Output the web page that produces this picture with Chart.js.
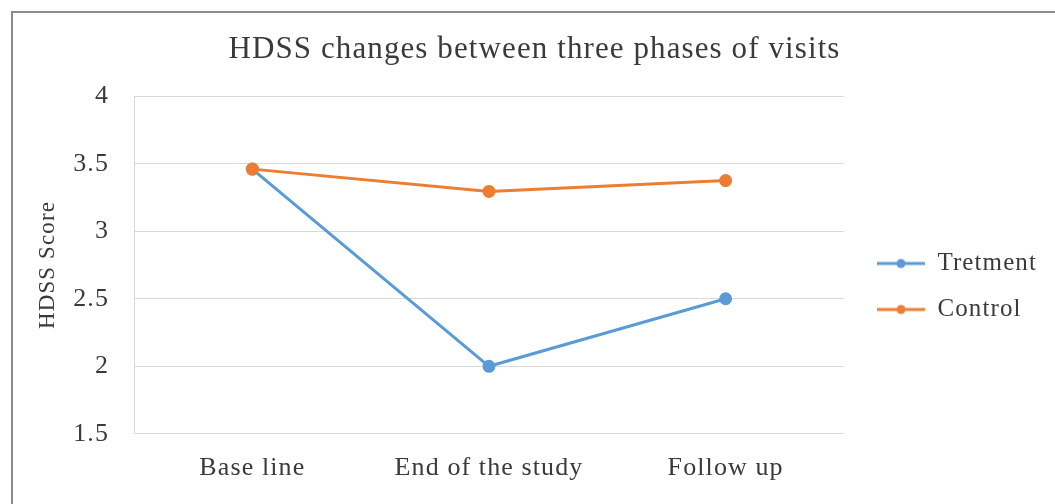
<!DOCTYPE html>
<html>
<head>
<meta charset="utf-8">
<script src="https://cdn.jsdelivr.net/npm/chart.js@4.4.1/dist/chart.umd.min.js"></script>
<style>
  html, body { margin:0; padding:0; background:#fff; }
  #wrap { width:1055px; height:504px; position:relative; }
</style>
</head>
<body>
<div id="wrap"><canvas id="c"></canvas></div>
<script>
// datos
const phases = ["Base line", "End of the study", "Follow up"];
const treatment = [3.46, 2.0, 2.5];
const control = [3.46, 3.295, 3.375];
const yTicks = [1.5, 2, 2.5, 3, 3.5, 4];

const BLUE = "#5b9bd5", ORANGE = "#ed7d31", TXT = "#3a3a3a", GRID = "#d9d9d9";
const SERIF = "'Liberation Serif', 'Times New Roman', serif";

// marcador de leyenda: línea con punto
function legendMarker(color){
  const c = document.createElement("canvas");
  c.width = 48; c.height = 12;
  const g = c.getContext("2d");
  g.strokeStyle = color; g.lineWidth = 3;
  g.beginPath(); g.moveTo(0,6); g.lineTo(48,6); g.stroke();
  g.fillStyle = color;
  g.beginPath(); g.arc(24,6,4.5,0,Math.PI*2); g.fill();
  return c;
}

// espaciado de letras, marco y posición de la leyenda
const tweaks = {
  id: "tweaks",
  beforeLayout(chart){ chart.ctx.letterSpacing = "1.1px"; },
  afterLayout(chart){
    const l = chart.legend;
    if (!l) return;
    l.top += 35; l.bottom += 35;
    l.left += 12; l.right += 12;
  },
  beforeDraw(chart){
    const ctx = chart.ctx;
    ctx.letterSpacing = "1.1px";
    ctx.save();
    ctx.strokeStyle = "#8c8c8c"; ctx.lineWidth = 2;
    ctx.strokeRect(12, 12, 1200, 700);
    ctx.restore();
  }
};

new Chart(document.getElementById("c"), {
  type: "line",
  data: {
    labels: phases,
    datasets: [
      { label:"Tretment", data:treatment, borderColor:BLUE, backgroundColor:BLUE,
        borderWidth:3, pointRadius:5, pointHoverRadius:5, order:1 },
      { label:"Control", data:control, borderColor:ORANGE, backgroundColor:ORANGE,
        borderWidth:3, pointRadius:5, pointHoverRadius:5, order:0 }
    ]
  },
  options: {
    responsive: true,
    maintainAspectRatio: false,
    animation: false,
    layout: { padding: { left:34, right:20, top:0, bottom:1 } },
    plugins: {
      title: {
        display: true,
        text: "HDSS changes between three phases of visits",
        color: TXT,
        font: { family: SERIF, size: 31, weight: "normal" },
        padding: { top: 31, bottom: 28 }
      },
      legend: {
        position: "right",
        labels: {
          usePointStyle: true,
          pointStyleWidth: 48,
          color: TXT,
          font: { family: SERIF, size: 25 },
          padding: 21,
          sort: (a, b) => a.datasetIndex - b.datasetIndex,
          generateLabels(chart){
            const items = Chart.defaults.plugins.legend.labels.generateLabels(chart);
            return items.map(it => {
              const ds = chart.data.datasets[it.datasetIndex];
              it.pointStyle = legendMarker(ds.borderColor);
              return it;
            });
          }
        }
      },
      tooltip: { enabled:false }
    },
    scales: {
      x: {
        offset: true,
        grid: { display:false, drawTicks:false },
        border: { display:true, color:GRID, width:1 },
        ticks: { color:TXT, font:{ family:SERIF, size:26 }, padding:19, maxRotation:0 }
      },
      y: {
        min: yTicks[0],
        max: yTicks[yTicks.length-1],
        afterBuildTicks(axis){ axis.ticks = yTicks.map(v => ({ value:v })); },
        afterFit(axis){ axis.width = 100; },
        grid: { color:GRID, lineWidth:1, drawTicks:false },
        border: { display:true, color:GRID, width:1 },
        ticks: { color:TXT, font:{ family:SERIF, size:26 }, padding:25,
                 callback: (v) => String(v) },
        title: {
          display: true,
          text: "HDSS Score",
          color: TXT,
          font: { family: SERIF, size: 23 },
          padding: { top:0, bottom:12 }
        }
      }
    }
  },
  plugins: [tweaks]
});
</script>
</body>
</html>
